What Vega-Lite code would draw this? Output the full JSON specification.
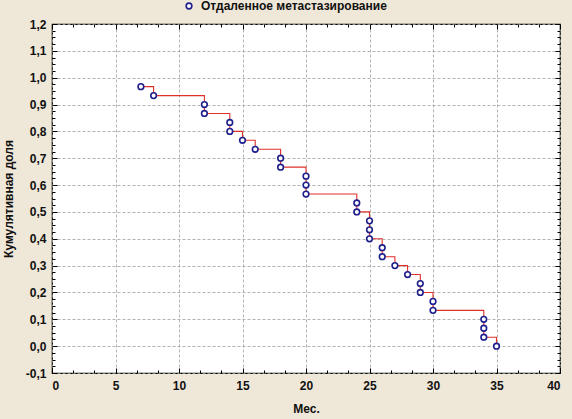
{
  "$schema": "https://vega.github.io/schema/vega-lite/v6.json",
  "width": 508,
  "height": 349,
  "autosize": "none",
  "padding": {"left": 52, "top": 24, "right": 12, "bottom": 46},
  "background": "#efe7d7",
  "config": {
    "locale": {"number": {"decimal": ",", "thousands": " ", "grouping": [3], "currency": ["", ""], "minus": "-"}},
    "view": {"fill": "white", "stroke": "black", "strokeWidth": 1.2},
    "font": "Liberation Sans",
    "axis": {
      "labelFont": "Liberation Sans", "labelFontSize": 12, "labelFontWeight": "bold", "labelColor": "#111",
      "titleFont": "Liberation Sans", "titleFontSize": 12, "titleFontWeight": "bold", "titleColor": "#111",
      "domain": false, "tickColor": "#000", "gridColor": "#a0a0a0", "gridDash": [3, 2], "gridWidth": 0.8
    }
  },
  "datasets": {
    "km": [
      {"t": 7, "p": 0.9667, "i": 1, "s": "Отдаленное метастазирование"},
      {"t": 8, "p": 0.9333, "i": 2, "s": "Отдаленное метастазирование"},
      {"t": 12, "p": 0.9, "i": 3, "s": "Отдаленное метастазирование"},
      {"t": 12, "p": 0.8667, "i": 4, "s": "Отдаленное метастазирование"},
      {"t": 14, "p": 0.8333, "i": 5, "s": "Отдаленное метастазирование"},
      {"t": 14, "p": 0.8, "i": 6, "s": "Отдаленное метастазирование"},
      {"t": 15, "p": 0.7667, "i": 7, "s": "Отдаленное метастазирование"},
      {"t": 16, "p": 0.7333, "i": 8, "s": "Отдаленное метастазирование"},
      {"t": 18, "p": 0.7, "i": 9, "s": "Отдаленное метастазирование"},
      {"t": 18, "p": 0.6667, "i": 10, "s": "Отдаленное метастазирование"},
      {"t": 20, "p": 0.6333, "i": 11, "s": "Отдаленное метастазирование"},
      {"t": 20, "p": 0.6, "i": 12, "s": "Отдаленное метастазирование"},
      {"t": 20, "p": 0.5667, "i": 13, "s": "Отдаленное метастазирование"},
      {"t": 24, "p": 0.5333, "i": 14, "s": "Отдаленное метастазирование"},
      {"t": 24, "p": 0.5, "i": 15, "s": "Отдаленное метастазирование"},
      {"t": 25, "p": 0.4667, "i": 16, "s": "Отдаленное метастазирование"},
      {"t": 25, "p": 0.4333, "i": 17, "s": "Отдаленное метастазирование"},
      {"t": 25, "p": 0.4, "i": 18, "s": "Отдаленное метастазирование"},
      {"t": 26, "p": 0.3667, "i": 19, "s": "Отдаленное метастазирование"},
      {"t": 26, "p": 0.3333, "i": 20, "s": "Отдаленное метастазирование"},
      {"t": 27, "p": 0.3, "i": 21, "s": "Отдаленное метастазирование"},
      {"t": 28, "p": 0.2667, "i": 22, "s": "Отдаленное метастазирование"},
      {"t": 29, "p": 0.2333, "i": 23, "s": "Отдаленное метастазирование"},
      {"t": 29, "p": 0.2, "i": 24, "s": "Отдаленное метастазирование"},
      {"t": 30, "p": 0.1667, "i": 25, "s": "Отдаленное метастазирование"},
      {"t": 30, "p": 0.1333, "i": 26, "s": "Отдаленное метастазирование"},
      {"t": 34, "p": 0.1, "i": 27, "s": "Отдаленное метастазирование"},
      {"t": 34, "p": 0.0667, "i": 28, "s": "Отдаленное метастазирование"},
      {"t": 34, "p": 0.0333, "i": 29, "s": "Отдаленное метастазирование"},
      {"t": 35, "p": 0.0, "i": 30, "s": "Отдаленное метастазирование"}
    ]
  },
  "data": {"name": "km"},
  "layer": [
    {
      "mark": {"type": "line", "interpolate": "step-after", "color": "#e0302a", "strokeWidth": 1.1},
      "encoding": {
        "x": {"field": "t", "type": "quantitative", "scale": {"domain": [0, 40], "nice": false},
          "axis": {"orient": "bottom", "title": "Мес.", "titlePadding": 12,
            "values": [0, 1.6667, 3.3333, 5, 6.6667, 8.3333, 10, 11.6667, 13.3333, 15, 16.6667, 18.3333, 20, 21.6667, 23.3333, 25, 26.6667, 28.3333, 30, 31.6667, 33.3333, 35, 36.6667, 38.3333, 40],
            "labelExpr": "datum.value % 5 === 0 ? format(datum.value, 'd') : ''",
            "tickSize": {"condition": {"test": "datum.value % 5 === 0", "value": -5}, "value": -3},
            "labelPadding": {"condition": {"test": "datum.value % 5 === 0", "value": 12}, "value": 10},
            "gridOpacity": {"condition": {"test": "datum.value % 5 === 0", "value": 1}, "value": 0}}},
        "y": {"field": "p", "type": "quantitative", "scale": {"domain": [-0.1, 1.2], "nice": false, "zero": false},
          "axis": {"orient": "left", "title": "Кумулятивная доля", "titlePadding": 10,
            "values": [-0.1, -0.075, -0.05, -0.025, 0, 0.025, 0.05, 0.075, 0.1, 0.125, 0.15, 0.175, 0.2, 0.225, 0.25, 0.275, 0.3, 0.325, 0.35, 0.375, 0.4, 0.425, 0.45, 0.475, 0.5, 0.525, 0.55, 0.575, 0.6, 0.625, 0.65, 0.675, 0.7, 0.725, 0.75, 0.775, 0.8, 0.825, 0.85, 0.875, 0.9, 0.925, 0.95, 0.975, 1.0, 1.025, 1.05, 1.075, 1.1, 1.125, 1.15, 1.175, 1.2],
            "labelExpr": "abs(round(datum.value * 40) % 4) === 0 ? format(datum.value, '.1f') : ''",
            "tickSize": {"condition": {"test": "abs(round(datum.value * 40) % 4) === 0", "value": -5}, "value": -3},
            "labelPadding": {"condition": {"test": "abs(round(datum.value * 40) % 4) === 0", "value": 11}, "value": 9},
            "gridOpacity": {"condition": {"test": "abs(round(datum.value * 40) % 4) === 0", "value": 1}, "value": 0}}},
        "order": {"field": "i", "type": "quantitative"}
      }
    },
    {
      "mark": {"type": "point", "shape": "circle", "filled": false, "fill": "white", "fillOpacity": 1, "strokeWidth": 1.6, "size": 32, "opacity": 1},
      "encoding": {
        "x": {"field": "t", "type": "quantitative",
          "axis": {"orient": "top", "title": null, "labels": false, "grid": false,
            "values": [0, 1.6667, 3.3333, 5, 6.6667, 8.3333, 10, 11.6667, 13.3333, 15, 16.6667, 18.3333, 20, 21.6667, 23.3333, 25, 26.6667, 28.3333, 30, 31.6667, 33.3333, 35, 36.6667, 38.3333, 40],
            "tickSize": {"condition": {"test": "datum.value % 5 === 0", "value": -5}, "value": -3}}},
        "y": {"field": "p", "type": "quantitative",
          "axis": {"orient": "right", "title": null, "labels": false, "grid": false,
            "values": [-0.1, -0.075, -0.05, -0.025, 0, 0.025, 0.05, 0.075, 0.1, 0.125, 0.15, 0.175, 0.2, 0.225, 0.25, 0.275, 0.3, 0.325, 0.35, 0.375, 0.4, 0.425, 0.45, 0.475, 0.5, 0.525, 0.55, 0.575, 0.6, 0.625, 0.65, 0.675, 0.7, 0.725, 0.75, 0.775, 0.8, 0.825, 0.85, 0.875, 0.9, 0.925, 0.95, 0.975, 1.0, 1.025, 1.05, 1.075, 1.1, 1.125, 1.15, 1.175, 1.2],
            "tickSize": {"condition": {"test": "abs(round(datum.value * 40) % 4) === 0", "value": -5}, "value": -3}}},
        "stroke": {"field": "s", "type": "nominal", "scale": {"range": ["#1e1e8c"]},
          "legend": {"title": null, "orient": "none", "legendX": 131, "legendY": -24, "padding": 0,
            "symbolType": "circle", "symbolFillColor": "white", "symbolStrokeColor": "#1e1e8c", "symbolStrokeWidth": 1.6, "symbolSize": 32,
            "labelFont": "Liberation Sans", "labelFontSize": 12, "labelFontWeight": "bold", "labelColor": "#111", "labelOffset": 6, "labelLimit": 0}}
      }
    }
  ],
  "resolve": {"axis": {"x": "independent", "y": "independent"}}
}
